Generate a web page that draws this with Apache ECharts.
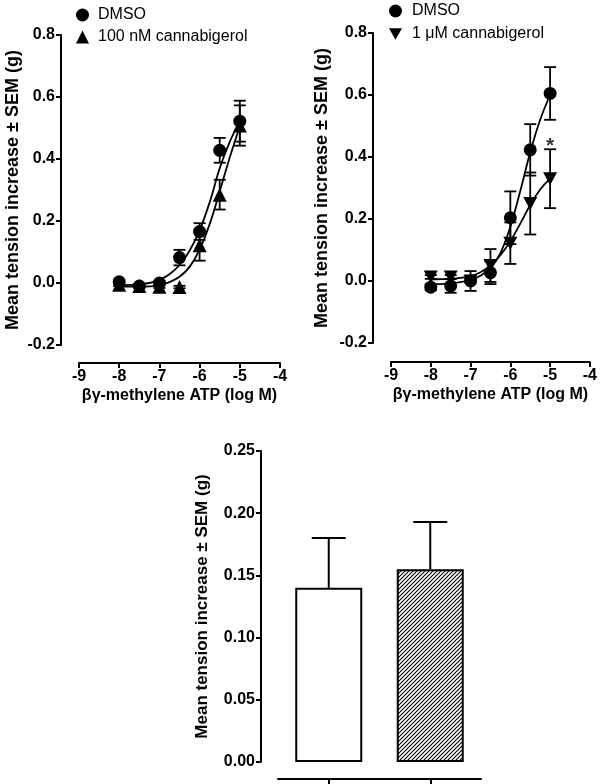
<!DOCTYPE html>
<html>
<head>
<meta charset="utf-8">
<script src="https://cdn.jsdelivr.net/npm/echarts/dist/echarts.min.js"></script>
<style>html,body{margin:0;padding:0;background:#fff}#c{width:600px;height:784px}</style>
</head>
<body>
<div id="c"></div>
<script>
// ---------- data ----------
const doseX = [-8, -7.5, -7, -6.5, -6, -5.5, -5];
// top-left panel: DMSO vs 100 nM cannabigerol
const tlDmso = [0.004, -0.01, 0.0, 0.082, 0.166, 0.428, 0.522];
const tlDmsoSem = [0.006, 0.006, 0.006, 0.025, 0.027, 0.04, 0.066];
const tlCbg = [-0.006, -0.01, -0.012, -0.013, 0.122, 0.285, 0.508];
const tlCbgSem = [0.004, 0.004, 0.004, 0.004, 0.05, 0.048, 0.065];
// top-right panel: DMSO vs 1 uM cannabigerol
const trDmso = [-0.02, -0.016, 0.0, 0.027, 0.204, 0.423, 0.605];
const trDmsoSem = [0.01, 0.022, 0.032, 0.037, 0.085, 0.083, 0.085];
const trCbg = [0.013, 0.013, 0.0, 0.05, 0.122, 0.25, 0.33];
const trCbgSem = [0.006, 0.006, 0.006, 0.053, 0.067, 0.1, 0.095];
// fitted curves
const curveX = [-8, -7.75, -7.5, -7.25, -7, -6.75, -6.5, -6.25, -6, -5.75, -5.5, -5.25, -5];
const tlDmsoFit = [-0.007, -0.006, -0.004, 0.0, 0.01, 0.028, 0.058, 0.104, 0.17, 0.26, 0.37, 0.455, 0.522];
const tlCbgFit = [-0.012, -0.012, -0.012, -0.011, -0.007, 0.003, 0.02, 0.052, 0.108, 0.19, 0.295, 0.405, 0.505];
const trDmsoFit = [-0.01, -0.01, -0.008, -0.004, 0.004, 0.017, 0.042, 0.09, 0.175, 0.29, 0.415, 0.52, 0.6];
const trCbgFit = [0.005, 0.006, 0.007, 0.01, 0.016, 0.028, 0.05, 0.083, 0.128, 0.185, 0.245, 0.295, 0.33];
const sigX = [-5];
const sigY = [0.435];
// bottom panel
const barCats = ['DMSO', 'Cannabigerol'];
const barVals = [0.14, 0.155];
const barSem = [0.04, 0.038];
// tick labels
const xTicksTop = [-9, -8, -7, -6, -5, -4];

// ---------- helpers ----------
const FONT = "'Liberation Sans', Arial, Helvetica, sans-serif";
const BLACK = '#000';
function errBars(dual) {
  return function (params, api) {
    const x = api.value(0), y = api.value(1), e = api.value(2);
    const hi = api.coord([x, y + e]);
    const lo = api.coord(dual ? [x, y - e] : [x, y]);
    const w = dual ? 6 : 17;
    const st = { stroke: BLACK, lineWidth: dual ? 1.8 : 2 };
    const ch = [
      { type: 'line', shape: { x1: hi[0], y1: hi[1], x2: lo[0], y2: lo[1] }, style: st },
      { type: 'line', shape: { x1: hi[0] - w, y1: hi[1], x2: hi[0] + w, y2: hi[1] }, style: st }
    ];
    if (dual) ch.push({ type: 'line', shape: { x1: lo[0] - w, y1: lo[1], x2: lo[0] + w, y2: lo[1] }, style: st });
    return { type: 'group', children: ch };
  };
}
function zip3(xs, ys, es) { return xs.map((x, i) => [x, ys[i], es[i]]); }
function zip2(xs, ys) { return xs.map((x, i) => [x, ys[i]]); }
function fmt(d) { return v => (Math.abs(v) < 1e-9 ? 0 : v).toFixed(d); }

// hatch pattern
const pat = document.createElement('canvas');
pat.width = 8; pat.height = 8;
const pc = pat.getContext('2d');
pc.fillStyle = '#fff'; pc.fillRect(0, 0, 8, 8);
pc.strokeStyle = '#000'; pc.lineWidth = 1.1;
for (let c = -8; c <= 16; c += 4) { pc.beginPath(); pc.moveTo(c - 8, 16); pc.lineTo(c + 8, 0); pc.stroke(); }

const axisLabel = { color: BLACK, fontFamily: FONT, fontWeight: 'bold', fontSize: 16 };
const axisLine = { show: true, onZero: false, lineStyle: { color: BLACK, width: 2 } };
const axisTick = { show: true, length: 5, lineStyle: { color: BLACK, width: 2 } };
const nameStyle = { color: BLACK, fontFamily: FONT, fontWeight: 'bold', fontSize: 17 };
const yTitle = 'Mean tension increase ± SEM (g)';
const xTitle = 'βγ-methylene ATP (log M)';
const DOWN_TRI = 'path://M0,0 L10,0 L5,9 Z';

function xTop(gi, off) {
  return {
    type: 'value', gridIndex: gi, min: xTicksTop[0], max: xTicksTop[xTicksTop.length - 1], interval: 1,
    offset: off, axisLine, axisTick, splitLine: { show: false },
    axisLabel: Object.assign({ margin: 6 }, axisLabel),
    name: xTitle, nameLocation: 'middle', nameGap: 25, nameTextStyle: Object.assign({}, nameStyle, { fontSize: 16 })
  };
}
function yTop(gi, off, gap) {
  return {
    type: 'value', gridIndex: gi, min: -0.2, max: 0.8, interval: 0.2, offset: off,
    axisLine, axisTick, splitLine: { show: false },
    axisLabel: Object.assign({ margin: 6, formatter: fmt(1) }, axisLabel),
    name: yTitle, nameLocation: 'middle', nameGap: gap, nameTextStyle: Object.assign({}, nameStyle, { fontSize: 18 })
  };
}

const option = {
  backgroundColor: '#fff',
  animation: false,
  grid: [
    { left: 79, top: 35, width: 201, height: 310 },
    { left: 391, top: 33, width: 200, height: 310 },
    { left: 278, top: 451, width: 203, height: 311 }
  ],
  legend: [
    {
      data: ['DMSO', '100 nM cannabigerol'], orient: 'vertical', left: 76, top: 7, padding: 0,
      itemWidth: 13, itemHeight: 13, itemGap: 6,
      textStyle: { color: BLACK, fontFamily: FONT, fontSize: 16, padding: [0, 0, 0, 4] }
    },
    {
      data: ['DMSO ', { name: '1 μM cannabigerol', icon: DOWN_TRI }], orient: 'vertical', left: 389, top: 3, padding: 0,
      itemWidth: 13, itemHeight: 13, itemGap: 7,
      textStyle: { color: BLACK, fontFamily: FONT, fontSize: 16, padding: [0, 0, 0, 5] }
    }
  ],
  xAxis: [
    xTop(0, 18),
    xTop(1, 19),
    {
      type: 'category', gridIndex: 2, data: barCats, offset: 17,
      axisLine, axisTick: Object.assign({ alignWithLabel: true }, axisTick, { length: 6 }),
      axisLabel: { show: false }
    }
  ],
  yAxis: [
    yTop(0, 18, 39),
    yTop(1, 18, 42),
    {
      type: 'value', gridIndex: 2, min: 0, max: 0.25, interval: 0.05, offset: 17,
      axisLine, axisTick, splitLine: { show: false },
      axisLabel: Object.assign({ margin: 6, formatter: fmt(2) }, axisLabel),
      name: yTitle, nameLocation: 'middle', nameGap: 50, nameTextStyle: nameStyle
    }
  ],
  series: [
    // ---- top-left ----
    { type: 'line', xAxisIndex: 0, yAxisIndex: 0, data: zip2(curveX, tlDmsoFit), smooth: 0.4, showSymbol: false, lineStyle: { color: BLACK, width: 1.8 }, silent: true, z: 2 },
    { type: 'line', xAxisIndex: 0, yAxisIndex: 0, data: zip2(curveX, tlCbgFit), smooth: 0.4, showSymbol: false, lineStyle: { color: BLACK, width: 1.8 }, silent: true, z: 2 },
    { type: 'custom', xAxisIndex: 0, yAxisIndex: 0, data: zip3(doseX, tlDmso, tlDmsoSem), renderItem: errBars(true), z: 3 },
    { type: 'custom', xAxisIndex: 0, yAxisIndex: 0, data: zip3(doseX, tlCbg, tlCbgSem), renderItem: errBars(true), z: 3 },
    { name: '100 nM cannabigerol', type: 'scatter', xAxisIndex: 0, yAxisIndex: 0, data: zip2(doseX, tlCbg), symbol: 'triangle', symbolSize: 14, itemStyle: { color: BLACK, opacity: 1 }, z: 4 },
    { name: 'DMSO', type: 'scatter', xAxisIndex: 0, yAxisIndex: 0, data: zip2(doseX, tlDmso), symbol: 'circle', symbolSize: 13, itemStyle: { color: BLACK, opacity: 1 }, z: 5 },
    // ---- top-right ----
    { type: 'line', xAxisIndex: 1, yAxisIndex: 1, data: zip2(curveX, trDmsoFit), smooth: 0.4, showSymbol: false, lineStyle: { color: BLACK, width: 1.8 }, silent: true, z: 2 },
    { type: 'line', xAxisIndex: 1, yAxisIndex: 1, data: zip2(curveX, trCbgFit), smooth: 0.4, showSymbol: false, lineStyle: { color: BLACK, width: 1.8 }, silent: true, z: 2 },
    { type: 'custom', xAxisIndex: 1, yAxisIndex: 1, data: zip3(doseX, trDmso, trDmsoSem), renderItem: errBars(true), z: 3 },
    { type: 'custom', xAxisIndex: 1, yAxisIndex: 1, data: zip3(doseX, trCbg, trCbgSem), renderItem: errBars(true), z: 3 },
    { name: '1 μM cannabigerol', type: 'scatter', xAxisIndex: 1, yAxisIndex: 1, data: zip2(doseX, trCbg), symbol: DOWN_TRI, symbolSize: [14, 13], itemStyle: { color: BLACK, opacity: 1 }, z: 4 },
    { name: 'DMSO ', type: 'scatter', xAxisIndex: 1, yAxisIndex: 1, data: zip2(doseX, trDmso), symbol: 'circle', symbolSize: 13, itemStyle: { color: BLACK, opacity: 1 }, z: 5 },
    {
      type: 'scatter', xAxisIndex: 1, yAxisIndex: 1, data: zip2(sigX, sigY), symbolSize: 1, itemStyle: { color: 'rgba(0,0,0,0)' }, silent: true,
      label: { show: true, position: 'inside', formatter: '*', color: BLACK, fontFamily: FONT, fontWeight: 'bold', fontSize: 21 }
    },
    // ---- bottom ----
    {
      type: 'bar', xAxisIndex: 2, yAxisIndex: 2, barWidth: 67, z: 2,
      data: barVals.map((v, i) => ({
        value: v,
        itemStyle: { color: i === 0 ? '#fff' : { image: pat, repeat: 'repeat' }, borderColor: BLACK, borderWidth: 2 }
      }))
    },
    { type: 'custom', xAxisIndex: 2, yAxisIndex: 2, data: barVals.map((v, i) => [i, v, barSem[i]]), renderItem: errBars(false), z: 3 }
  ]
};
const chart = echarts.init(document.getElementById('c'), null, { renderer: 'canvas' });
chart.setOption(option);
</script>
</body>
</html>
